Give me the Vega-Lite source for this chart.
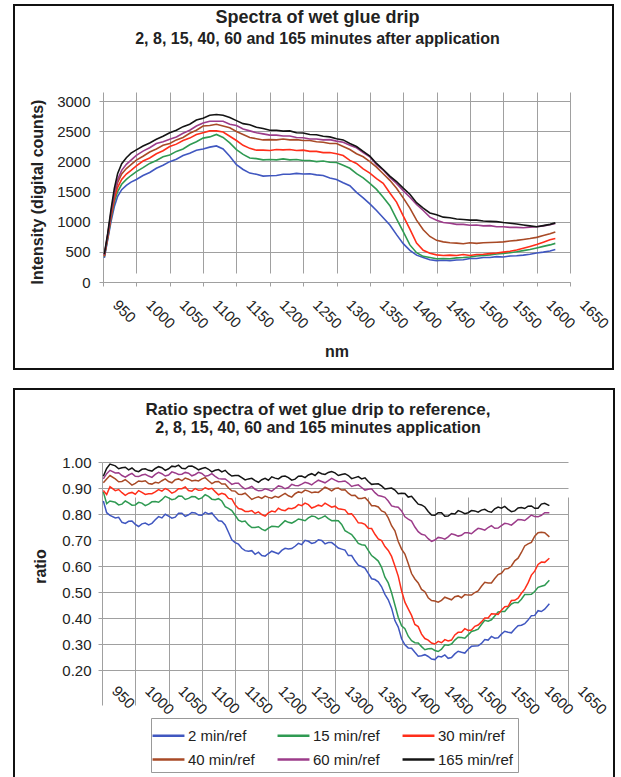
{
  "$schema": "https://vega.github.io/schema/vega-lite/v6.json",
  "padding": {"left": 13, "top": 4, "right": 0, "bottom": 0},
  "background": "white",
  "spacing": 18,
  "resolve": {"scale": {"color": "independent"}, "legend": {"color": "independent"}},
  "config": {
    "font": "Liberation Sans",
    "view": {"stroke": "#111111", "strokeWidth": 2},
    "axis": {"gridColor": "#a0a0a0", "gridWidth": 1, "gridOpacity": 1, "domainColor": "#a0a0a0", "domainWidth": 1, "tickColor": "#a0a0a0", "tickSize": 4, "labelFont": "Liberation Sans", "labelFontSize": 15, "labelColor": "#222222", "titleFont": "Liberation Sans", "titleFontSize": 16, "titleFontWeight": "bold", "titleColor": "#222222"},
    "title": {"font": "Liberation Sans", "fontSize": 18, "fontWeight": "bold", "subtitleFont": "Liberation Sans", "subtitleFontSize": 16, "subtitleFontWeight": "bold", "color": "#222222", "subtitleColor": "#222222", "frame": "group", "anchor": "middle", "baseline": "top"},
    "legend": {"labelFont": "Liberation Sans", "labelFontSize": 15, "labelColor": "#222222"}
  },
  "datasets": {
    "top": [
      {"nm":952,"2":400,"15":420,"30":430,"40":440,"60":450,"165":460},
      {"nm":957,"2":700,"15":720,"30":740,"40":760,"60":780,"165":800},
      {"nm":962,"2":1000,"15":1050,"30":1080,"40":1120,"60":1150,"165":1200},
      {"nm":967,"2":1250,"15":1330,"30":1380,"40":1440,"60":1480,"165":1550},
      {"nm":972,"2":1420,"15":1500,"30":1570,"40":1650,"60":1700,"165":1800},
      {"nm":978,"2":1530,"15":1620,"30":1700,"40":1790,"60":1850,"165":1960},
      {"nm":985,"2":1600,"15":1700,"30":1790,"40":1880,"60":1950,"165":2060},
      {"nm":992,"2":1655,"15":1765,"30":1850,"40":1945,"60":2020,"165":2135},
      {"nm":1000,"2":1700,"15":1830,"30":1925,"40":2020,"60":2100,"165":2190},
      {"nm":1010,"2":1765,"15":1895,"30":2005,"40":2085,"60":2170,"165":2255},
      {"nm":1020,"2":1815,"15":1965,"30":2055,"40":2155,"60":2225,"165":2305},
      {"nm":1030,"2":1885,"15":2015,"30":2125,"40":2205,"60":2295,"165":2365},
      {"nm":1040,"2":1935,"15":2075,"30":2175,"40":2265,"60":2325,"165":2415},
      {"nm":1050,"2":1995,"15":2105,"30":2245,"40":2295,"60":2365,"165":2475},
      {"nm":1060,"2":2035,"15":2165,"30":2285,"40":2355,"60":2405,"165":2515},
      {"nm":1070,"2":2095,"15":2205,"30":2345,"40":2395,"60":2465,"165":2575},
      {"nm":1080,"2":2135,"15":2275,"30":2385,"40":2465,"60":2515,"165":2615},
      {"nm":1090,"2":2185,"15":2325,"30":2445,"40":2515,"60":2585,"165":2685},
      {"nm":1100,"2":2205,"15":2385,"30":2475,"40":2585,"60":2635,"165":2715},
      {"nm":1110,"2":2235,"15":2405,"30":2505,"40":2595,"60":2665,"165":2765},
      {"nm":1120,"2":2255,"15":2445,"30":2505,"40":2615,"60":2665,"165":2775},
      {"nm":1130,"2":2205,"15":2395,"30":2485,"40":2585,"60":2665,"165":2765},
      {"nm":1140,"2":2085,"15":2305,"30":2415,"40":2555,"60":2615,"165":2725},
      {"nm":1150,"2":1945,"15":2195,"30":2345,"40":2495,"60":2595,"165":2675},
      {"nm":1160,"2":1865,"15":2115,"30":2265,"40":2445,"60":2535,"165":2625},
      {"nm":1170,"2":1805,"15":2055,"30":2215,"40":2395,"60":2505,"165":2605},
      {"nm":1180,"2":1785,"15":2045,"30":2185,"40":2375,"60":2475,"165":2565},
      {"nm":1190,"2":1755,"15":2025,"30":2185,"40":2355,"60":2455,"165":2545},
      {"nm":1200,"2":1760,"15":2030,"30":2180,"40":2360,"60":2435,"165":2515},
      {"nm":1210,"2":1765,"15":2025,"30":2195,"40":2355,"60":2435,"165":2515},
      {"nm":1220,"2":1785,"15":2040,"30":2190,"40":2370,"60":2420,"165":2500},
      {"nm":1230,"2":1785,"15":2025,"30":2195,"40":2355,"60":2420,"165":2505},
      {"nm":1240,"2":1800,"15":2030,"30":2180,"40":2360,"60":2395,"165":2475},
      {"nm":1250,"2":1790,"15":2015,"30":2185,"40":2345,"60":2390,"165":2470},
      {"nm":1260,"2":1795,"15":2015,"30":2165,"40":2345,"60":2370,"165":2445},
      {"nm":1270,"2":1775,"15":1995,"30":2165,"40":2325,"60":2370,"165":2440},
      {"nm":1280,"2":1765,"15":2005,"30":2145,"40":2315,"60":2355,"165":2415},
      {"nm":1290,"2":1725,"15":1985,"30":2145,"40":2295,"60":2360,"165":2405},
      {"nm":1300,"2":1700,"15":1980,"30":2125,"40":2295,"60":2335,"165":2375},
      {"nm":1310,"2":1645,"15":1935,"30":2095,"40":2245,"60":2315,"165":2355},
      {"nm":1320,"2":1595,"15":1885,"30":2015,"40":2195,"60":2265,"165":2295},
      {"nm":1330,"2":1485,"15":1795,"30":1965,"40":2125,"60":2225,"165":2245},
      {"nm":1340,"2":1395,"15":1725,"30":1875,"40":2075,"60":2145,"165":2165},
      {"nm":1350,"2":1295,"15":1635,"30":1805,"40":1995,"60":2075,"165":2085},
      {"nm":1360,"2":1185,"15":1535,"30":1715,"40":1905,"60":1945,"165":1965},
      {"nm":1370,"2":1065,"15":1405,"30":1635,"40":1795,"60":1855,"165":1865},
      {"nm":1380,"2":945,"15":1265,"30":1475,"40":1685,"60":1735,"165":1755},
      {"nm":1390,"2":785,"15":1045,"30":1325,"40":1555,"60":1635,"165":1665},
      {"nm":1400,"2":635,"15":835,"30":1095,"40":1395,"60":1515,"165":1555},
      {"nm":1410,"2":525,"15":615,"30":875,"40":1225,"60":1405,"165":1455},
      {"nm":1420,"2":445,"15":485,"30":645,"40":1025,"60":1285,"165":1315},
      {"nm":1430,"2":405,"15":425,"30":525,"40":865,"60":1185,"165":1225},
      {"nm":1440,"2":370,"15":405,"30":475,"40":755,"60":1075,"165":1145},
      {"nm":1450,"2":355,"15":385,"30":450,"40":690,"60":1025,"165":1115},
      {"nm":1460,"2":360,"15":390,"30":440,"40":665,"60":985,"165":1075},
      {"nm":1470,"2":355,"15":385,"30":445,"40":650,"60":975,"165":1065},
      {"nm":1480,"2":365,"15":400,"30":440,"40":645,"60":955,"165":1045},
      {"nm":1490,"2":370,"15":405,"30":455,"40":635,"60":955,"165":1035},
      {"nm":1500,"2":390,"15":415,"30":440,"40":650,"60":940,"165":1025},
      {"nm":1510,"2":390,"15":430,"30":455,"40":640,"60":945,"165":1025},
      {"nm":1520,"2":405,"15":440,"30":460,"40":650,"60":930,"165":1010},
      {"nm":1530,"2":405,"15":450,"30":470,"40":655,"60":935,"165":1005},
      {"nm":1540,"2":420,"15":465,"30":480,"40":660,"60":915,"165":1000},
      {"nm":1550,"2":415,"15":475,"30":495,"40":665,"60":915,"165":985},
      {"nm":1560,"2":430,"15":485,"30":510,"40":680,"60":905,"165":975},
      {"nm":1570,"2":435,"15":500,"30":530,"40":690,"60":905,"165":960},
      {"nm":1580,"2":445,"15":520,"30":560,"40":705,"60":900,"165":945},
      {"nm":1590,"2":460,"15":540,"30":590,"40":720,"60":910,"165":930},
      {"nm":1600,"2":480,"15":565,"30":620,"40":740,"60":915,"165":915},
      {"nm":1610,"2":495,"15":590,"30":660,"40":770,"60":930,"165":935},
      {"nm":1620,"2":515,"15":615,"30":700,"40":800,"60":950,"165":955},
      {"nm":1628,"2":540,"15":640,"30":720,"40":830,"60":970,"165":980}
    ],
    "bottom": [
      {"nm":952,"2":0.850,"15":0.885,"30":0.890,"40":0.920,"60":0.935,"165":0.945},
      {"nm":957,"2":0.805,"15":0.840,"30":0.875,"40":0.935,"60":0.955,"165":0.975},
      {"nm":962,"2":0.795,"15":0.850,"30":0.905,"40":0.948,"60":0.968,"165":0.992},
      {"nm":970,"2":0.785,"15":0.845,"30":0.890,"40":0.935,"60":0.958,"165":0.985},
      {"nm":980,"2":0.768,"15":0.838,"30":0.882,"40":0.925,"60":0.948,"165":0.978},
      {"nm":990,"2":0.772,"15":0.843,"30":0.880,"40":0.922,"60":0.950,"165":0.970},
      {"nm":1000,"2":0.760,"15":0.835,"30":0.876,"40":0.918,"60":0.945,"165":0.966},
      {"nm":1010,"2":0.762,"15":0.842,"30":0.883,"40":0.925,"60":0.950,"165":0.972},
      {"nm":1020,"2":0.758,"15":0.838,"30":0.878,"40":0.917,"60":0.946,"165":0.968},
      {"nm":1030,"2":0.778,"15":0.848,"30":0.885,"40":0.922,"60":0.952,"165":0.975},
      {"nm":1040,"2":0.785,"15":0.855,"30":0.888,"40":0.928,"60":0.955,"165":0.978},
      {"nm":1050,"2":0.792,"15":0.862,"30":0.892,"40":0.925,"60":0.950,"165":0.974},
      {"nm":1060,"2":0.788,"15":0.858,"30":0.886,"40":0.932,"60":0.958,"165":0.982},
      {"nm":1070,"2":0.803,"15":0.868,"30":0.897,"40":0.928,"60":0.953,"165":0.976},
      {"nm":1080,"2":0.797,"15":0.860,"30":0.890,"40":0.934,"60":0.957,"165":0.984},
      {"nm":1090,"2":0.804,"15":0.866,"30":0.898,"40":0.930,"60":0.952,"165":0.978},
      {"nm":1100,"2":0.795,"15":0.862,"30":0.892,"40":0.935,"60":0.956,"165":0.975},
      {"nm":1110,"2":0.800,"15":0.868,"30":0.895,"40":0.928,"60":0.948,"165":0.972},
      {"nm":1120,"2":0.788,"15":0.855,"30":0.886,"40":0.924,"60":0.945,"165":0.968},
      {"nm":1130,"2":0.772,"15":0.850,"30":0.880,"40":0.915,"60":0.935,"165":0.962},
      {"nm":1140,"2":0.730,"15":0.822,"30":0.860,"40":0.900,"60":0.925,"165":0.955},
      {"nm":1150,"2":0.690,"15":0.795,"30":0.835,"40":0.888,"60":0.918,"165":0.948},
      {"nm":1160,"2":0.668,"15":0.770,"30":0.818,"40":0.875,"60":0.905,"165":0.940},
      {"nm":1170,"2":0.657,"15":0.758,"30":0.810,"40":0.868,"60":0.900,"165":0.935},
      {"nm":1180,"2":0.645,"15":0.748,"30":0.802,"40":0.862,"60":0.895,"165":0.928},
      {"nm":1190,"2":0.640,"15":0.742,"30":0.798,"40":0.860,"60":0.890,"165":0.932},
      {"nm":1200,"2":0.648,"15":0.746,"30":0.804,"40":0.864,"60":0.893,"165":0.930},
      {"nm":1210,"2":0.652,"15":0.752,"30":0.808,"40":0.868,"60":0.898,"165":0.938},
      {"nm":1220,"2":0.660,"15":0.762,"30":0.815,"40":0.872,"60":0.905,"165":0.944},
      {"nm":1230,"2":0.665,"15":0.768,"30":0.822,"40":0.870,"60":0.902,"165":0.940},
      {"nm":1240,"2":0.676,"15":0.772,"30":0.825,"40":0.878,"60":0.910,"165":0.934},
      {"nm":1250,"2":0.682,"15":0.778,"30":0.832,"40":0.882,"60":0.915,"165":0.946},
      {"nm":1260,"2":0.695,"15":0.785,"30":0.836,"40":0.888,"60":0.918,"165":0.950},
      {"nm":1270,"2":0.690,"15":0.790,"30":0.828,"40":0.885,"60":0.922,"165":0.948},
      {"nm":1280,"2":0.698,"15":0.786,"30":0.830,"40":0.893,"60":0.925,"165":0.955},
      {"nm":1290,"2":0.690,"15":0.782,"30":0.834,"40":0.897,"60":0.928,"165":0.960},
      {"nm":1300,"2":0.680,"15":0.775,"30":0.830,"40":0.898,"60":0.930,"165":0.958},
      {"nm":1310,"2":0.665,"15":0.760,"30":0.818,"40":0.892,"60":0.925,"165":0.952},
      {"nm":1320,"2":0.640,"15":0.728,"30":0.800,"40":0.880,"60":0.918,"165":0.948},
      {"nm":1330,"2":0.620,"15":0.705,"30":0.785,"40":0.872,"60":0.910,"165":0.940},
      {"nm":1340,"2":0.598,"15":0.682,"30":0.765,"40":0.860,"60":0.902,"165":0.935},
      {"nm":1350,"2":0.572,"15":0.660,"30":0.745,"40":0.850,"60":0.895,"165":0.925},
      {"nm":1360,"2":0.548,"15":0.630,"30":0.722,"40":0.832,"60":0.882,"165":0.915},
      {"nm":1370,"2":0.520,"15":0.595,"30":0.698,"40":0.812,"60":0.868,"165":0.908},
      {"nm":1380,"2":0.470,"15":0.535,"30":0.660,"40":0.785,"60":0.850,"165":0.898},
      {"nm":1390,"2":0.390,"15":0.450,"30":0.600,"40":0.735,"60":0.828,"165":0.892},
      {"nm":1400,"2":0.320,"15":0.370,"30":0.505,"40":0.665,"60":0.812,"165":0.880},
      {"nm":1410,"2":0.285,"15":0.330,"30":0.435,"40":0.610,"60":0.780,"165":0.865},
      {"nm":1420,"2":0.268,"15":0.305,"30":0.375,"40":0.550,"60":0.750,"165":0.853},
      {"nm":1430,"2":0.255,"15":0.290,"30":0.338,"40":0.510,"60":0.722,"165":0.835},
      {"nm":1440,"2":0.252,"15":0.282,"30":0.315,"40":0.478,"60":0.705,"165":0.810},
      {"nm":1450,"2":0.240,"15":0.275,"30":0.300,"40":0.465,"60":0.700,"165":0.795},
      {"nm":1460,"2":0.250,"15":0.280,"30":0.305,"40":0.468,"60":0.708,"165":0.805},
      {"nm":1470,"2":0.245,"15":0.295,"30":0.312,"40":0.475,"60":0.712,"165":0.792},
      {"nm":1480,"2":0.262,"15":0.315,"30":0.335,"40":0.482,"60":0.720,"165":0.800},
      {"nm":1490,"2":0.268,"15":0.325,"30":0.345,"40":0.478,"60":0.718,"165":0.808},
      {"nm":1500,"2":0.280,"15":0.335,"30":0.352,"40":0.488,"60":0.728,"165":0.805},
      {"nm":1510,"2":0.292,"15":0.352,"30":0.368,"40":0.498,"60":0.735,"165":0.812},
      {"nm":1520,"2":0.302,"15":0.375,"30":0.385,"40":0.522,"60":0.742,"165":0.815},
      {"nm":1530,"2":0.315,"15":0.388,"30":0.400,"40":0.535,"60":0.748,"165":0.810},
      {"nm":1540,"2":0.322,"15":0.408,"30":0.415,"40":0.552,"60":0.745,"165":0.820},
      {"nm":1550,"2":0.338,"15":0.425,"30":0.430,"40":0.572,"60":0.755,"165":0.822},
      {"nm":1560,"2":0.345,"15":0.440,"30":0.445,"40":0.590,"60":0.762,"165":0.818},
      {"nm":1570,"2":0.358,"15":0.460,"30":0.468,"40":0.620,"60":0.768,"165":0.812},
      {"nm":1580,"2":0.372,"15":0.472,"30":0.495,"40":0.652,"60":0.778,"165":0.825},
      {"nm":1590,"2":0.392,"15":0.490,"30":0.535,"40":0.685,"60":0.785,"165":0.830},
      {"nm":1600,"2":0.410,"15":0.502,"30":0.580,"40":0.715,"60":0.790,"165":0.822},
      {"nm":1610,"2":0.425,"15":0.522,"30":0.615,"40":0.730,"60":0.795,"165":0.838},
      {"nm":1622,"2":0.455,"15":0.545,"30":0.630,"40":0.712,"60":0.805,"165":0.832},
      {"nm":975,"2":0.787,"15":0.835,"30":0.894,"40":0.924,"60":0.959,"165":0.974},
      {"nm":985,"2":0.764,"15":0.850,"30":0.872,"40":0.932,"60":0.942,"165":0.980},
      {"nm":995,"2":0.773,"15":0.834,"30":0.883,"40":0.911,"60":0.956,"165":0.977},
      {"nm":1005,"2":0.752,"15":0.845,"30":0.890,"40":0.927,"60":0.944,"165":0.963},
      {"nm":1015,"2":0.765,"15":0.832,"30":0.875,"40":0.928,"60":0.953,"165":0.974},
      {"nm":1025,"2":0.764,"15":0.847,"30":0.878,"40":0.915,"60":0.941,"165":0.965},
      {"nm":1035,"2":0.790,"15":0.845,"30":0.894,"40":0.919,"60":0.960,"165":0.982},
      {"nm":1045,"2":0.799,"15":0.868,"30":0.898,"40":0.935,"60":0.946,"165":0.968},
      {"nm":1055,"2":0.784,"15":0.855,"30":0.880,"40":0.920,"60":0.962,"165":0.984},
      {"nm":1065,"2":0.803,"15":0.869,"30":0.897,"40":0.935,"60":0.952,"165":0.988},
      {"nm":1075,"2":0.791,"15":0.856,"30":0.904,"40":0.938,"60":0.960,"165":0.974},
      {"nm":1085,"2":0.806,"15":0.867,"30":0.888,"40":0.927,"60":0.947,"165":0.985},
      {"nm":1095,"2":0.796,"15":0.857,"30":0.891,"40":0.927,"60":0.960,"165":0.970},
      {"nm":1105,"2":0.806,"15":0.874,"30":0.901,"40":0.940,"60":0.945,"165":0.979},
      {"nm":1115,"2":0.804,"15":0.857,"30":0.899,"40":0.917,"60":0.955,"165":0.962},
      {"nm":1125,"2":0.774,"15":0.859,"30":0.874,"40":0.925,"60":0.936,"165":0.971},
      {"nm":1135,"2":0.758,"15":0.828,"30":0.875,"40":0.915,"60":0.935,"165":0.968},
      {"nm":1145,"2":0.701,"15":0.813,"30":0.858,"40":0.889,"60":0.914,"165":0.946},
      {"nm":1155,"2":0.684,"15":0.776,"30":0.821,"40":0.876,"60":0.918,"165":0.948},
      {"nm":1165,"2":0.659,"15":0.773,"30":0.810,"40":0.880,"60":0.896,"165":0.931},
      {"nm":1175,"2":0.659,"15":0.748,"30":0.813,"40":0.856,"60":0.906,"165":0.937},
      {"nm":1185,"2":0.653,"15":0.751,"30":0.808,"40":0.866,"60":0.889,"165":0.922},
      {"nm":1195,"2":0.638,"15":0.736,"30":0.792,"40":0.869,"60":0.897,"165":0.937},
      {"nm":1205,"2":0.657,"15":0.753,"30":0.811,"40":0.861,"60":0.888,"165":0.943},
      {"nm":1215,"2":0.647,"15":0.750,"30":0.822,"40":0.864,"60":0.908,"165":0.935},
      {"nm":1225,"2":0.668,"15":0.774,"30":0.813,"40":0.879,"60":0.897,"165":0.946},
      {"nm":1235,"2":0.667,"15":0.765,"30":0.820,"40":0.865,"60":0.914,"165":0.930},
      {"nm":1245,"2":0.687,"15":0.781,"30":0.836,"40":0.885,"60":0.909,"165":0.945},
      {"nm":1255,"2":0.699,"15":0.774,"30":0.842,"40":0.892,"60":0.922,"165":0.940},
      {"nm":1265,"2":0.687,"15":0.792,"30":0.823,"40":0.882,"60":0.912,"165":0.955},
      {"nm":1275,"2":0.701,"15":0.781,"30":0.834,"40":0.883,"60":0.930,"165":0.961},
      {"nm":1285,"2":0.685,"15":0.793,"30":0.842,"40":0.903,"60":0.920,"165":0.952},
      {"nm":1295,"2":0.690,"15":0.774,"30":0.826,"40":0.889,"60":0.937,"165":0.963},
      {"nm":1305,"2":0.669,"15":0.774,"30":0.820,"40":0.900,"60":0.924,"165":0.948},
      {"nm":1315,"2":0.661,"15":0.736,"30":0.816,"40":0.893,"60":0.927,"165":0.955},
      {"nm":1325,"2":0.640,"15":0.721,"30":0.801,"40":0.871,"60":0.906,"165":0.936},
      {"nm":1335,"2":0.603,"15":0.687,"30":0.766,"40":0.860,"60":0.912,"165":0.944},
      {"nm":1345,"2":0.592,"15":0.680,"30":0.760,"40":0.863,"60":0.892,"165":0.939},
      {"nm":1355,"2":0.551,"15":0.640,"30":0.744,"40":0.832,"60":0.897,"165":0.914},
      {"nm":1365,"2":0.539,"15":0.619,"30":0.704,"40":0.827,"60":0.871,"165":0.916},
      {"nm":1375,"2":0.491,"15":0.557,"30":0.675,"40":0.806,"60":0.864,"165":0.896},
      {"nm":1385,"2":0.438,"15":0.497,"30":0.637,"40":0.755,"60":0.831,"165":0.900},
      {"nm":1395,"2":0.365,"15":0.403,"30":0.561,"40":0.694,"60":0.826,"165":0.878},
      {"nm":1405,"2":0.297,"15":0.359,"30":0.461,"40":0.646,"60":0.789,"165":0.879},
      {"nm":1415,"2":0.284,"15":0.313,"30":0.410,"40":0.571,"60":0.773,"165":0.868},
      {"nm":1425,"2":0.253,"15":0.304,"30":0.367,"40":0.535,"60":0.732,"165":0.838},
      {"nm":1435,"2":0.259,"15":0.278,"30":0.321,"40":0.501,"60":0.719,"165":0.827},
      {"nm":1445,"2":0.242,"15":0.283,"30":0.304,"40":0.467,"60":0.695,"165":0.796},
      {"nm":1455,"2":0.253,"15":0.271,"30":0.310,"40":0.461,"60":0.710,"165":0.805},
      {"nm":1465,"2":0.258,"15":0.297,"30":0.317,"40":0.480,"60":0.703,"165":0.791},
      {"nm":1475,"2":0.248,"15":0.300,"30":0.315,"40":0.470,"60":0.724,"165":0.802},
      {"nm":1485,"2":0.272,"15":0.326,"30":0.345,"40":0.485,"60":0.715,"165":0.813},
      {"nm":1495,"2":0.265,"15":0.322,"30":0.359,"40":0.490,"60":0.728,"165":0.801},
      {"nm":1505,"2":0.291,"15":0.348,"30":0.354,"40":0.488,"60":0.724,"165":0.813},
      {"nm":1515,"2":0.293,"15":0.357,"30":0.373,"40":0.504,"60":0.745,"165":0.807},
      {"nm":1525,"2":0.317,"15":0.391,"30":0.400,"40":0.537,"60":0.738,"165":0.818},
      {"nm":1535,"2":0.329,"15":0.393,"30":0.416,"40":0.535,"60":0.755,"165":0.807},
      {"nm":1545,"2":0.324,"15":0.423,"30":0.414,"40":0.567,"60":0.746,"165":0.827},
      {"nm":1555,"2":0.349,"15":0.425,"30":0.443,"40":0.588,"60":0.764,"165":0.829},
      {"nm":1565,"2":0.343,"15":0.454,"30":0.467,"40":0.600,"60":0.757,"165":0.809},
      {"nm":1575,"2":0.370,"15":0.459,"30":0.476,"40":0.630,"60":0.779,"165":0.823},
      {"nm":1585,"2":0.378,"15":0.490,"30":0.511,"40":0.677,"60":0.775,"165":0.821},
      {"nm":1595,"2":0.409,"15":0.491,"30":0.565,"40":0.691,"60":0.796,"165":0.831},
      {"nm":1605,"2":0.428,"15":0.518,"30":0.606,"40":0.728,"60":0.789,"165":0.822},
      {"nm":1615,"2":0.434,"15":0.526,"30":0.614,"40":0.728,"60":0.805,"165":0.841}
    ]
  },
  "vconcat": [
    {
      "width": 599,
      "height": 364,
      "title": {"text": "Spectra of wet glue drip", "subtitle": "2, 8, 15, 40, 60 and 165 minutes after application", "offset": -42, "dx": 4, "subtitlePadding": 4},
      "data": {"name": "top"},
      "transform": [{"fold": ["2", "15", "30", "40", "60", "165"], "as": ["series", "v"]}],
      "mark": {"type": "line", "strokeWidth": 1.6},
      "encoding": {
        "x": {"field": "nm", "type": "quantitative",
          "scale": {"domain": [950, 1650], "range": [89, 556], "nice": false, "zero": false},
          "axis": {"values": [950,1000,1050,1100,1150,1200,1250,1300,1350,1400,1450,1500,1550,1600,1650], "format": "d", "title": "nm", "offset": -87, "labelAngle": 45, "labelAlign": "left", "labelBaseline": "middle", "labelPadding": 16, "labelOffset": 12, "labelFlush": false, "labelOverlap": false, "titlePadding": 12}},
        "y": {"field": "v", "type": "quantitative",
          "scale": {"domain": [0, 3000], "range": [277, 96], "nice": false},
          "axis": {"values": [0,500,1000,1500,2000,2500,3000], "format": "d", "title": "Intensity (digital counts)", "offset": -89, "labelPadding": 9, "titlePadding": 11}},
        "color": {"field": "series", "type": "nominal",
          "scale": {"domain": ["2", "15", "30", "40", "60", "165"], "range": ["#4057c0", "#2f9a52", "#ff2e1a", "#a84a26", "#9c3c8a", "#141414"]},
          "legend": null}
      }
    },
    {
      "width": 600,
      "height": 389,
      "title": {"text": "Ratio spectra of wet glue drip to reference,", "subtitle": "2, 8, 15, 40, 60 and 165 minutes application", "fontSize": 17, "offset": -48, "dx": 4, "subtitlePadding": 1},
      "data": {"name": "bottom"},
      "transform": [{"fold": ["2", "15", "30", "40", "60", "165"], "as": ["series", "v"]}],
      "mark": {"type": "line", "strokeWidth": 1.5},
      "encoding": {
        "x": {"field": "nm", "type": "quantitative",
          "scale": {"domain": [950, 1650], "range": [88, 554], "nice": false, "zero": false},
          "axis": {"values": [950,1000,1050,1100,1150,1200,1250,1300,1350,1400,1450,1500,1550,1600,1650], "format": "d", "title": null, "offset": -108, "labelAngle": 45, "labelAlign": "left", "labelBaseline": "middle", "labelPadding": 14, "labelOffset": 12, "labelFlush": false, "labelOverlap": false}},
        "y": {"field": "v", "type": "quantitative",
          "scale": {"domain": [0.2, 1.0], "range": [281, 73], "nice": false, "zero": false},
          "axis": {"values": [0.2,0.3,0.4,0.5,0.6,0.7,0.8,0.9,1.0], "format": ".2f", "title": "ratio", "offset": -88, "labelPadding": 7, "titlePadding": 13}},
        "color": {"field": "series", "type": "nominal",
          "scale": {"domain": ["2", "15", "30", "40", "60", "165"], "range": ["#4057c0", "#2f9a52", "#ff2e1a", "#a84a26", "#9c3c8a", "#141414"]},
          "legend": {"orient": "none", "legendX": 137, "legendY": 329, "columns": 3, "direction": "horizontal", "title": null, "symbolType": "M-1.33,0H1.33", "symbolSize": 576, "symbolStrokeWidth": 2.5, "labelExpr": "datum.label + ' min/ref'", "labelOffset": 6, "strokeColor": "#999999", "padding": 4, "rowPadding": 2, "columnPadding": 17}}
      }
    }
  ]
}
